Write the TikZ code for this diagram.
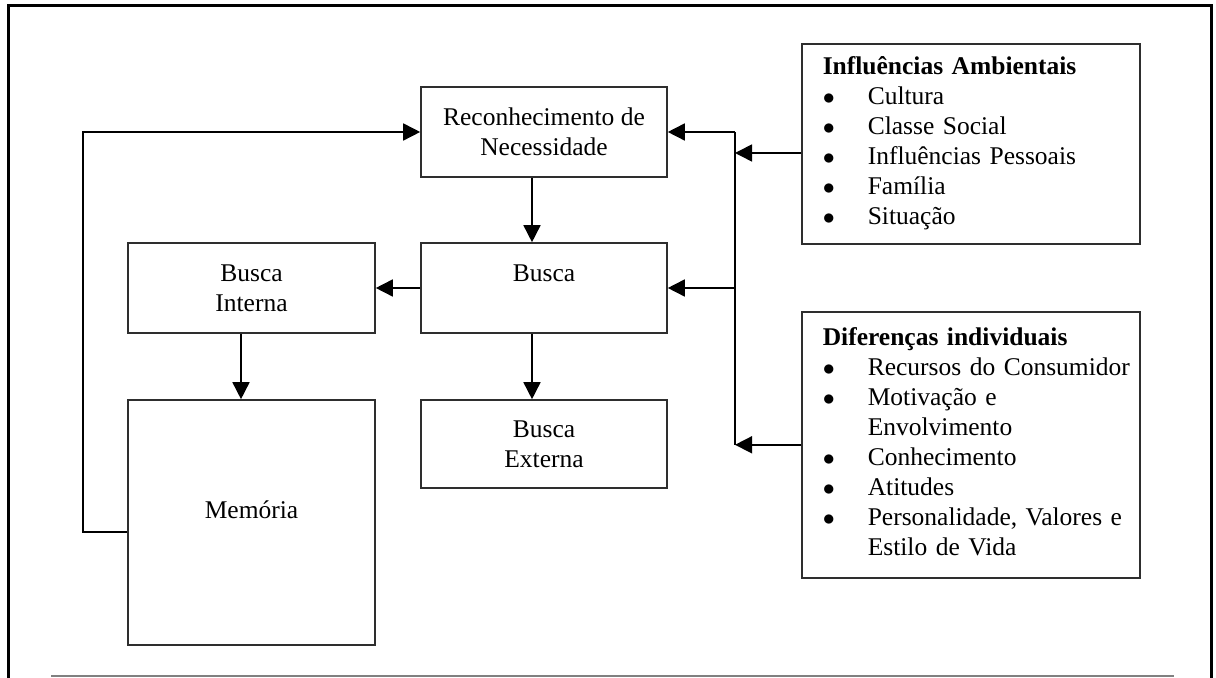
\documentclass[tikz,border=0pt]{standalone}
\usepackage{fontspec}
\setmainfont{Liberation Serif}
\usetikzlibrary{arrows.meta}

\newlength{\du}
\setlength{\du}{0.5pt}

\definecolor{caixacor}{rgb}{0.180000, 0.180000, 0.180000}
\definecolor{rodapecor}{rgb}{0.500000, 0.500000, 0.500000}

\newcommand{\marca}{$\bullet$}

\tikzset{
	caixa/.style={draw=caixacor, line width=1.6\du, minimum width=247\du, align=center, inner sep=0pt},
	lista/.style={draw=caixacor, line width=1.6\du, anchor=north west, minimum width=338\du,
		text width=296\du, inner xsep=21\du, inner ysep=0pt},
	linha/.style={line width=1.6\du, draw=dialinecolor},
	seta/.style={linha, -{Triangle[length=8.5pt,width=8.5pt]}},
	moldura/.style={line width=3\du, draw=black},
	rodape/.style={line width=2\du, draw=rodapecor}
}

\begin{document}
\begin{tikzpicture}[font=\fontsize{12.75}{15}\selectfont]
	\pgftransformxscale{1.000000}
	\pgftransformyscale{-1.000000}
	\definecolor{dialinecolor}{rgb}{0.000000, 0.000000, 0.000000}
	\pgfsetstrokecolor{dialinecolor}
	\useasboundingbox (0\du,0\du) rectangle (1216\du,678\du);
	% moldura da pagina
	\draw[moldura] (8\du,678\du) -- (8\du,6\du) -- (1211\du,6\du) -- (1211\du,678\du);
	\draw[rodape] (51\du,676\du) -- (1174\du,676\du);
	% caixas do processo
	\node[caixa, minimum width=246\du, minimum height=90\du] (recon) at (544\du,132\du){Reconhecimento de\\Necessidade};
	\node[caixa, minimum width=246\du, minimum height=90\du] (busca) at (544\du,288\du){Busca\\\mbox{}};
	\node[caixa, minimum width=246\du, minimum height=88\du] (externa) at (544\du,444\du){Busca\\Externa};
	\node[caixa, minimum height=90\du] (interna) at (251.5\du,288\du){Busca\\Interna};
	\node[caixa, minimum height=245\du] (memoria) at (251.5\du,522.5\du){Memória\\[-4\du]\mbox{}};
	% fatores
	\node[lista, minimum height=200\du] (influencias) at (801\du,43\du){\noindent
		\begin{tabular}{@{}p{45\du}@{}l@{}}
			\multicolumn{2}{@{}l@{}}{\textbf{Influências Ambientais}}\\
			\marca & Cultura\\
			\marca & Classe Social\\
			\marca & Influências Pessoais\\
			\marca & Família\\
			\marca & Situação
		\end{tabular}};
	\node[lista, minimum height=266\du] (diferencas) at (801\du,311\du){\noindent
		\begin{tabular}{@{}p{45\du}@{}l@{}}
			\multicolumn{2}{@{}l@{}}{\textbf{Diferenças individuais}}\\
			\marca & Recursos do Consumidor\\
			\marca & Motivação e\\
			       & Envolvimento\\
			\marca & Conhecimento\\
			\marca & Atitudes\\
			\marca & Personalidade, Valores e\\
			       & Estilo de Vida
		\end{tabular}};
	% pontos de passagem
	\coordinate (barra) at (735\du,0\du);
	\coordinate (ramo) at (0\du,153\du);
	\coordinate (eixo) at (532\du,0\du);
	\coordinate (eixoint) at (241\du,0\du);
	\coordinate (volta) at (83\du,532\du);
	% ligacoes
	\draw[seta] (recon.south -| eixo) -- (busca.north -| eixo);
	\draw[seta] (busca.south -| eixo) -- (externa.north -| eixo);
	\draw[seta] (busca.west) -- (interna.east);
	\draw[seta] (interna.south -| eixoint) -- (memoria.north -| eixoint);
	\draw[seta] (memoria.west |- volta) -- (volta) |- (recon.west);
	\draw[linha] (barra |- recon.east) -- (barra |- diferencas.west);
	\draw[seta] (barra |- recon.east) -- (recon.east);
	\draw[seta] (barra |- busca.east) -- (busca.east);
	\draw[seta] (influencias.west |- ramo) -- (barra |- ramo);
	\draw[seta] (diferencas.west) -- (barra |- diferencas.west);
\end{tikzpicture}
\end{document}
